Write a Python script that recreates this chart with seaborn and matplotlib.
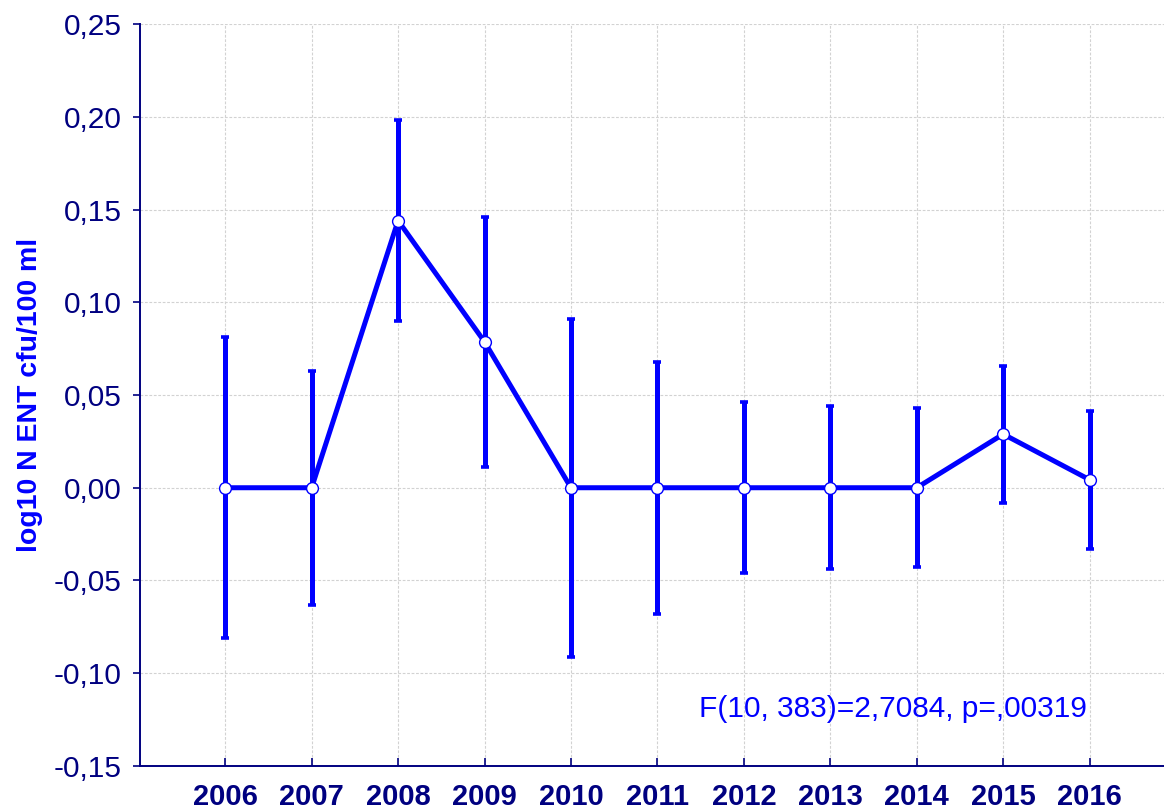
import numpy as np
import pandas as pd
import seaborn as sns
import matplotlib.pyplot as plt

# values
years = ['2006', '2007', '2008', '2009', '2010', '2011', '2012', '2013', '2014', '2015', '2016']
means = [0.0, 0.0, 0.144, 0.0787, 0.0, 0.0, 0.0, 0.0, 0.0, 0.0289, 0.0043]
ci = [0.081, 0.063, 0.054, 0.0675, 0.091, 0.068, 0.046, 0.044, 0.043, 0.037, 0.0373]
yticks = [-0.15, -0.10, -0.05, 0.0, 0.05, 0.10, 0.15, 0.20, 0.25]
stat_text = 'F(10, 383)=2,7084, p=,00319'

navy = '#000080'
blue = '#0000FF'

sns.set_style('white')
plt.rcParams['font.family'] = ['Liberation Sans', 'DejaVu Sans']

df = pd.DataFrame({'pos': np.arange(len(years)), 'year': years, 'mean': means, 'ci': ci})

fig = plt.figure(figsize=(11.64, 8.09), dpi=100)
ax = fig.add_axes([0.1203, 0.0532, 0.8797, 0.9171])

ax.errorbar(df['pos'], df['mean'], yerr=df['ci'], fmt='none', ecolor=blue,
            elinewidth=3.6, capsize=3.2, capthick=2.6, zorder=3)
sns.lineplot(data=df, x='pos', y='mean', ax=ax, color=blue, linewidth=3.6,
             marker='o', markersize=8.5, markerfacecolor='white',
             markeredgecolor=blue, markeredgewidth=1.0, zorder=4)

ax.set_xlim(-0.985, 10.86)
ax.set_ylim(-0.15, 0.25)
ax.set_xticks(df['pos'])
ax.set_xticklabels(years, fontsize=21, fontweight='bold', color=navy)
ax.set_yticks(yticks)
ax.set_yticklabels([f'{v:.2f}'.replace('.', ',') for v in yticks], fontsize=21.5, color=navy)

ax.tick_params(axis='y', direction='out', length=5, width=1.2, color=navy, pad=8, left=True)
ax.tick_params(axis='x', direction='in', length=6, width=1.2, color=navy, pad=12, bottom=True)

ax.grid(True, color='#d2d2d2', linestyle=(0, (2.5, 1.5)), linewidth=0.8, zorder=0)
ax.set_axisbelow(True)

for side in ['top', 'right']:
    ax.spines[side].set_visible(False)
for side in ['left', 'bottom']:
    ax.spines[side].set_color(navy)
    ax.spines[side].set_linewidth(1.4)

ax.set_xlabel('')
ax.set_ylabel('log10 N ENT cfu/100 ml', fontsize=20.5, fontweight='bold', color=blue, labelpad=8)

ax.text(7.72, -0.1195, stat_text, fontsize=21.5, color=blue, ha='center', va='center')

fig.savefig('out.png', dpi=100)
